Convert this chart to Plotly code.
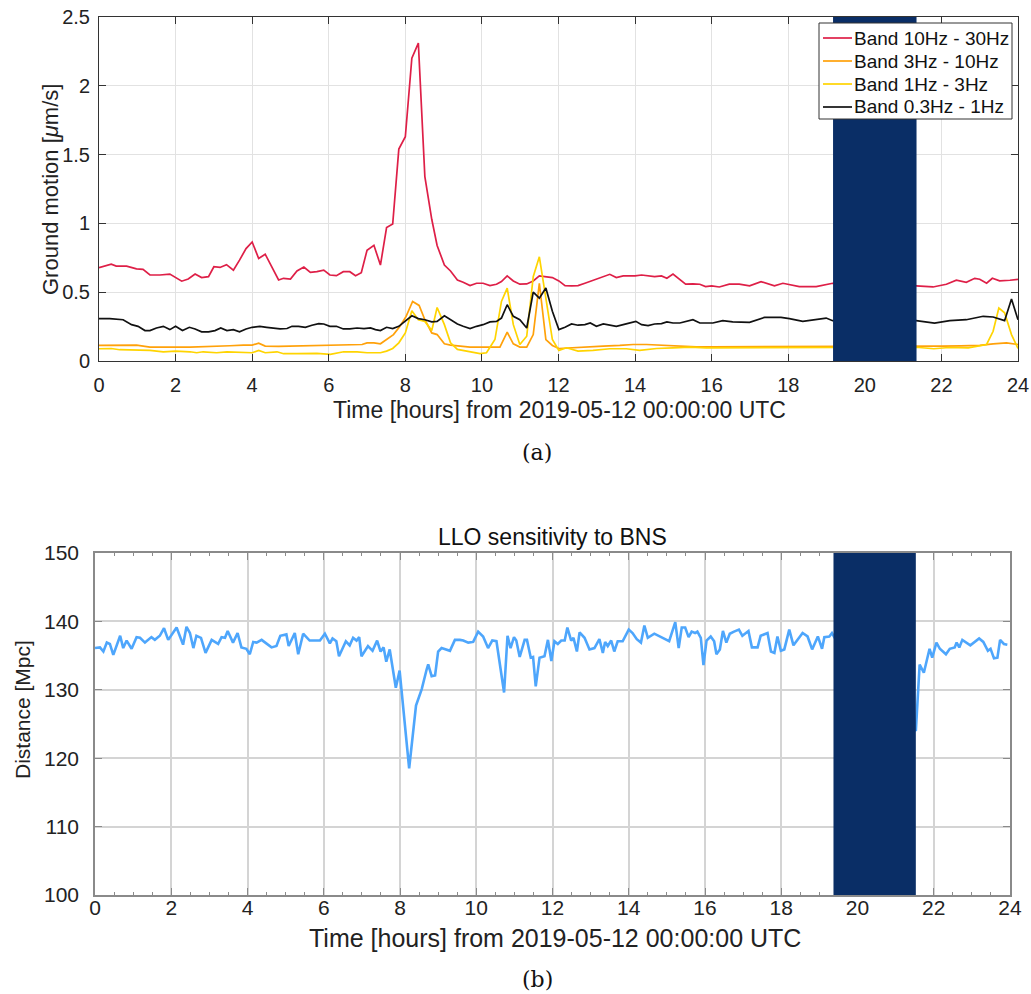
import plotly.graph_objects as go

# ---------------- DATA ----------------
# (a) Ground motion bands, hours since 2019-05-12 00:00 UTC, values in um/s
red_t = [0, 0.32, 0.45, 0.72, 0.98, 1.15, 1.33, 1.59, 1.85, 2.16, 2.33, 2.51, 2.68, 2.86, 3.0, 3.16, 3.33, 3.51,
         3.67, 3.84, 4.0, 4.17, 4.34, 4.52, 4.69, 4.82, 5.0, 5.17, 5.35, 5.52, 5.69, 5.87, 6.03, 6.2, 6.38, 6.55,
         6.7, 6.85, 7.0, 7.18, 7.35, 7.51, 7.67, 7.83, 8.0, 8.17, 8.34, 8.51, 8.69, 8.83, 9.02, 9.18, 9.36, 9.51,
         9.69, 9.86, 10.03, 10.21, 10.38, 10.51, 10.66, 10.82, 10.99, 11.17, 11.34, 11.5, 11.67, 11.84, 12.01,
         12.17, 12.34, 12.51, 12.69, 12.86, 13.03, 13.18, 13.34, 13.51, 13.69, 13.86, 14.0, 14.17, 14.34, 14.51,
         14.69, 14.83, 14.99, 15.17, 15.32, 15.51, 15.69, 15.84, 16.0, 16.2, 16.46, 16.72, 16.99, 17.29, 17.64,
         17.86, 18.29, 18.73, 19.16, 21.34, 21.78, 22.13, 22.39, 22.65, 22.87, 23.0, 23.18, 23.33, 23.52, 23.79, 24.0]
red_v = [0.678, 0.704, 0.69, 0.69, 0.67, 0.666, 0.625, 0.625, 0.632, 0.58, 0.596, 0.632, 0.606, 0.613, 0.685, 0.68,
         0.70, 0.66, 0.733, 0.817, 0.865, 0.745, 0.776, 0.678, 0.589, 0.601, 0.596, 0.654, 0.683, 0.644, 0.649,
         0.661, 0.625, 0.62, 0.649, 0.649, 0.62, 0.642, 0.805, 0.841, 0.697, 0.97, 0.995, 1.54, 1.63, 2.2, 2.31,
         1.34, 1.03, 0.84, 0.697, 0.654, 0.589, 0.572, 0.548, 0.565, 0.565, 0.548, 0.558, 0.577, 0.618, 0.582,
         0.558, 0.56, 0.582, 0.618, 0.613, 0.606, 0.582, 0.548, 0.546, 0.548, 0.565, 0.582, 0.601, 0.618, 0.63,
         0.606, 0.618, 0.618, 0.618, 0.625, 0.618, 0.613, 0.618, 0.601, 0.632, 0.589, 0.558, 0.56, 0.558, 0.541,
         0.546, 0.538, 0.558, 0.558, 0.546, 0.577, 0.546, 0.565, 0.541, 0.541, 0.565, 0.546, 0.538, 0.558, 0.587,
         0.572, 0.601, 0.594, 0.565, 0.601, 0.582, 0.587, 0.594]

orange_t = [0, 0.28, 0.63, 0.98, 1.33, 1.68, 2.03, 2.38, 2.72, 3.07, 3.42, 3.77, 4.0, 4.17, 4.34, 4.69, 5.0, 5.35,
            5.69, 6.04, 6.39, 6.74, 6.87, 7.0, 7.18, 7.35, 7.51, 7.69, 7.86, 8.02, 8.19, 8.36, 8.51, 8.69, 8.83,
            9.02, 9.18, 9.43, 9.69, 9.95, 10.3, 10.47, 10.66, 10.82, 10.99, 11.17, 11.34, 11.5, 11.67, 11.84,
            12.01, 12.3, 12.73, 13.17, 13.6, 13.95, 14.3, 14.73, 15.17, 15.6, 16.03, 16.5, 17.0, 17.5, 18.0,
            18.5, 19.16, 21.34, 22.0, 22.5, 23.0, 23.35, 23.7, 24.0]
orange_v = [0.113, 0.115, 0.113, 0.115, 0.101, 0.103, 0.101, 0.101, 0.103, 0.108, 0.111, 0.115, 0.115, 0.13,
            0.108, 0.106, 0.108, 0.108, 0.111, 0.111, 0.115, 0.12, 0.12, 0.132, 0.132, 0.125, 0.156, 0.192, 0.252,
            0.324, 0.433, 0.404, 0.30, 0.204, 0.192, 0.125, 0.115, 0.108, 0.101, 0.101, 0.101, 0.101, 0.209, 0.125,
            0.101, 0.101, 0.192, 0.565, 0.156, 0.113, 0.091, 0.096, 0.103, 0.108, 0.113, 0.12, 0.12, 0.113, 0.108,
            0.103, 0.103, 0.103, 0.105, 0.103, 0.103, 0.105, 0.105, 0.108, 0.108, 0.11, 0.113, 0.125, 0.132, 0.12]

yellow_t = [0, 0.32, 0.54, 0.98, 1.33, 1.68, 2.0, 2.38, 2.55, 2.72, 3.07, 3.34, 3.6, 3.86, 4.0, 4.17, 4.34, 4.65,
            4.82, 5.17, 5.69, 6.04, 6.39, 6.74, 7.0, 7.35, 7.51, 7.67, 7.83, 8.0, 8.17, 8.34, 8.51, 8.69, 8.83,
            9.02, 9.18, 9.36, 9.6, 9.95, 10.12, 10.34, 10.51, 10.66, 10.82, 10.99, 11.17, 11.34, 11.5, 11.67,
            11.84, 12.01, 12.21, 12.51, 12.9, 13.34, 13.77, 14.12, 14.56, 14.99, 15.43, 15.86, 16.2, 16.7, 17.2,
            17.7, 18.2, 18.7, 19.16, 21.34, 21.8, 22.2, 22.7, 23.18, 23.35, 23.5, 23.65, 23.83, 24.0]
yellow_v = [0.089, 0.091, 0.082, 0.082, 0.077, 0.067, 0.072, 0.067, 0.06, 0.067, 0.06, 0.067, 0.065, 0.06, 0.06,
            0.077, 0.06, 0.067, 0.053, 0.053, 0.055, 0.048, 0.067, 0.067, 0.06, 0.06, 0.072, 0.091, 0.132, 0.204,
            0.365, 0.30, 0.288, 0.221, 0.389, 0.264, 0.132, 0.084, 0.072, 0.053, 0.06, 0.156, 0.433, 0.529, 0.264,
            0.12, 0.18, 0.613, 0.757, 0.457, 0.156, 0.077, 0.096, 0.072, 0.077, 0.089, 0.089, 0.077, 0.091, 0.096,
            0.101, 0.096, 0.096, 0.098, 0.096, 0.098, 0.096, 0.098, 0.098, 0.10, 0.089, 0.098, 0.096, 0.12, 0.216,
            0.385, 0.35, 0.192, 0.091]

black_t = [0, 0.28, 0.63, 0.85, 1.02, 1.2, 1.33, 1.5, 1.68, 1.85, 2.0, 2.18, 2.36, 2.51, 2.68, 2.86, 3.03, 3.18,
           3.34, 3.51, 3.67, 3.84, 4.0, 4.2, 4.38, 4.56, 4.73, 4.91, 5.04, 5.21, 5.39, 5.56, 5.74, 5.87, 6.03, 6.2,
           6.38, 6.55, 6.74, 6.92, 7.09, 7.22, 7.35, 7.51, 7.67, 7.83, 8.0, 8.17, 8.34, 8.51, 8.69, 8.83, 9.02,
           9.18, 9.36, 9.51, 9.69, 9.86, 10.03, 10.21, 10.38, 10.51, 10.66, 10.82, 10.99, 11.17, 11.34, 11.5,
           11.67, 11.84, 12.01, 12.17, 12.34, 12.51, 12.69, 12.83, 12.99, 13.17, 13.34, 13.51, 13.69, 13.86,
           14.02, 14.17, 14.34, 14.51, 14.69, 14.83, 14.99, 15.17, 15.32, 15.51, 15.69, 15.86, 16.03, 16.29,
           16.55, 16.99, 17.38, 17.81, 18.03, 18.38, 18.73, 18.99, 19.16, 21.34, 21.82, 22.22, 22.65, 23.09,
           23.35, 23.65, 23.83, 24.0]
black_v = [0.308, 0.308, 0.30, 0.264, 0.252, 0.221, 0.221, 0.24, 0.252, 0.228, 0.252, 0.221, 0.245, 0.233, 0.212,
           0.212, 0.221, 0.24, 0.221, 0.228, 0.212, 0.233, 0.245, 0.252, 0.245, 0.236, 0.233, 0.236, 0.252, 0.252,
           0.245, 0.26, 0.272, 0.269, 0.252, 0.252, 0.233, 0.233, 0.24, 0.236, 0.24, 0.228, 0.221, 0.245, 0.236,
           0.252, 0.288, 0.329, 0.308, 0.30, 0.284, 0.288, 0.329, 0.30, 0.269, 0.252, 0.236, 0.252, 0.264, 0.284,
           0.288, 0.312, 0.409, 0.325, 0.30, 0.24, 0.50, 0.457, 0.53, 0.361, 0.228, 0.245, 0.269, 0.26, 0.264,
           0.276, 0.252, 0.269, 0.26, 0.252, 0.264, 0.276, 0.288, 0.264, 0.257, 0.269, 0.272, 0.284, 0.276, 0.276,
           0.288, 0.30, 0.276, 0.276, 0.276, 0.293, 0.284, 0.281, 0.317, 0.317, 0.308, 0.288, 0.30, 0.312, 0.293,
           0.293, 0.276, 0.293, 0.30, 0.325, 0.32, 0.293, 0.45, 0.30]

# (b) LLO BNS range [Mpc]
blue_t = [0, 0.13, 0.22, 0.31, 0.39, 0.48, 0.66, 0.74, 0.83, 0.96, 1.09, 1.18, 1.31, 1.48, 1.57, 1.7, 1.81, 1.92,
          2.14, 2.31, 2.4, 2.49, 2.58, 2.66, 2.78, 2.9, 3.06, 3.23, 3.32, 3.41, 3.48, 3.62, 3.74, 3.84, 3.97, 4.06,
          4.15, 4.24, 4.37, 4.63, 4.76, 4.86, 5.02, 5.08, 5.24, 5.33, 5.46, 5.63, 5.9, 6.03, 6.16, 6.23, 6.33,
          6.4, 6.58, 6.68, 6.77, 6.86, 6.93, 6.99, 7.16, 7.28, 7.4, 7.49, 7.57, 7.64, 7.73, 7.89, 7.99, 8.24,
          8.42, 8.57, 8.7, 8.74, 8.83, 8.92, 9.0, 9.09, 9.31, 9.44, 9.57, 9.66, 9.79, 9.92, 10.05, 10.18, 10.31,
          10.42, 10.53, 10.73, 10.82, 10.9, 10.99, 11.05, 11.14, 11.27, 11.33, 11.43, 11.49, 11.56, 11.66, 11.79,
          11.88, 11.97, 12.05, 12.14, 12.23, 12.32, 12.39, 12.49, 12.55, 12.64, 12.71, 12.84, 12.97, 13.1, 13.23,
          13.32, 13.38, 13.45, 13.54, 13.62, 13.71, 13.84, 14.0, 14.1, 14.21, 14.32, 14.41, 14.5, 14.67, 14.8,
          14.93, 15.06, 15.22, 15.31, 15.39, 15.48, 15.57, 15.65, 15.74, 15.8, 15.89, 15.96, 16.04, 16.15, 16.24,
          16.3, 16.39, 16.47, 16.56, 16.65, 16.76, 16.89, 16.98, 17.14, 17.23, 17.38, 17.46, 17.64, 17.73, 17.82,
          17.9, 17.99, 18.08, 18.21, 18.32, 18.56, 18.69, 18.81, 18.96, 19.07, 19.13, 19.26, 19.33, 19.4, 21.53,
          21.63, 21.74, 21.89, 21.96, 22.07, 22.16, 22.32, 22.42, 22.55, 22.6, 22.67, 22.75, 22.86, 22.96, 23.19,
          23.3, 23.42, 23.49, 23.58, 23.67, 23.74, 23.84, 23.93]
blue_v = [136.1, 136.2, 135.6, 136.9, 136.7, 135.1, 137.9, 136.1, 137.2, 136.0, 137.7, 137.6, 136.9, 137.7, 137.3,
          137.9, 139.0, 137.3, 139.1, 136.6, 139.2, 138.3, 136.1, 137.9, 137.6, 135.4, 137.3, 136.7, 137.7, 137.6,
          138.6, 136.9, 138.3, 136.2, 136.0, 135.2, 137.0, 136.9, 137.3, 136.2, 136.4, 137.9, 138.1, 136.4, 138.3,
          135.2, 138.2, 137.2, 137.2, 138.2, 136.8, 137.5, 137.1, 134.9, 137.1, 136.5, 137.6, 137.2, 137.7, 134.9,
          136.4, 135.7, 137.2, 135.6, 136.2, 134.1, 135.9, 130.3, 132.8, 118.5, 127.7, 130.1, 133.0, 133.7, 132.0,
          132.1, 135.6, 136.1, 135.7, 137.3, 137.3, 137.2, 136.9, 137.0, 138.5, 137.8, 136.1, 137.2, 137.1, 129.6,
          137.9, 136.1, 137.7, 137.2, 134.8, 137.3, 137.3, 134.7, 134.8, 130.5, 134.7, 134.9, 137.3, 134.2, 137.1,
          136.7, 137.2, 137.2, 139.1, 137.2, 137.6, 135.6, 138.4, 137.6, 135.9, 136.1, 137.4, 135.4, 137.0, 136.4,
          137.2, 135.6, 137.1, 137.1, 138.8, 138.3, 137.4, 136.9, 139.4, 137.6, 138.2, 137.8, 137.5, 137.1, 139.9,
          136.1, 139.1, 139.1, 137.7, 138.5, 138.3, 138.5, 137.6, 133.6, 137.2, 137.8, 137.1, 135.2, 135.9, 138.6,
          136.9, 138.2, 138.5, 138.8, 137.9, 138.6, 136.2, 136.2, 137.9, 138.3, 135.6, 135.4, 137.8, 135.7, 135.9,
          138.8, 136.5, 138.3, 137.8, 135.9, 137.8, 136.0, 137.7, 137.8, 138.3, 137.6, 124.0, 133.7, 132.5, 136.0,
          134.7, 136.9, 136.0, 135.2, 136.0, 136.2, 136.9, 136.2, 137.3, 136.9, 136.5, 137.5, 137.0, 135.7, 136.0,
          134.6, 134.7, 137.3, 136.7, 136.6]

# data-outage windows (hours)
gap_a = [19.17, 21.35]
gap_b = [19.37, 21.53]

series_a = [
    ("Band 10Hz - 30Hz", red_t, red_v, "#de1f47"),
    ("Band 3Hz - 10Hz", orange_t, orange_v, "#ffa10a"),
    ("Band 1Hz - 3Hz", yellow_t, yellow_v, "#ffd400"),
    ("Band 0.3Hz - 1Hz", black_t, black_v, "#111111"),
]
x_ticks = list(range(0, 25, 2))

# ---------------- FIGURE ----------------
W, H = 1031, 994
fig = go.Figure()

for name, t, v, c in series_a:
    fig.add_trace(go.Scatter(x=t, y=v, mode="lines", name=name, showlegend=False,
                             line=dict(color=c, width=1.7), xaxis="x", yaxis="y"))

fig.add_trace(go.Scatter(x=blue_t, y=blue_v, mode="lines", showlegend=False, name="LLO BNS range",
                         line=dict(color="#4ea6fc", width=2.6), xaxis="x2", yaxis="y2"))

band_col = "#0a2e66"
fig.add_shape(type="rect", xref="x", yref="y", x0=gap_a[0], x1=gap_a[1], y0=0, y1=2.5,
              fillcolor=band_col, line=dict(width=0), layer="above")
fig.add_shape(type="rect", xref="x2", yref="y2", x0=gap_b[0], x1=gap_b[1], y0=100, y1=150.5,
              fillcolor=band_col, line=dict(width=0), layer="above")

def px(x):
    return x / W

def py(y):
    return 1 - y / H

font_main = "Liberation Sans, Arial, Helvetica, sans-serif"

# legend box (panel a), drawn on top of the outage band
leg_left, leg_right, leg_top, leg_bottom = 819, 1012, 23, 119
row_h = 23
fig.add_shape(type="rect", xref="paper", yref="paper",
              x0=px(leg_left), x1=px(leg_right), y0=py(leg_bottom), y1=py(leg_top),
              fillcolor="white", line=dict(color="#333333", width=1), layer="above")
for i, (name, t, v, c) in enumerate(series_a):
    yy = leg_top + 15 + i * row_h
    fig.add_shape(type="line", xref="paper", yref="paper",
                  x0=px(leg_left + 4), x1=px(leg_left + 33), y0=py(yy), y1=py(yy),
                  line=dict(color=c, width=1.7), layer="above")
    fig.add_annotation(text=name, xref="paper", yref="paper", x=px(leg_left + 33), y=py(yy),
                       xanchor="left", yanchor="middle", showarrow=False,
                       font=dict(size=19, family=font_main, color="#111111"))

fig.update_layout(
    template="none",
    width=W, height=H,
    margin=dict(l=0, r=0, t=0, b=0, autoexpand=False),
    paper_bgcolor="white", plot_bgcolor="white",
    font=dict(family=font_main, color="#222222"),
    hovermode=False,
    showlegend=False,
    xaxis=dict(domain=[px(99), px(1018)], range=[0, 24], tickvals=x_ticks, automargin=False,
               ticks="inside", ticklen=7, tickcolor="#333333", mirror="ticks",
               showline=True, linecolor="#333333", linewidth=1,
               showgrid=True, gridcolor="#e2e2e2", gridwidth=1, zeroline=False,
               tickfont=dict(size=20, color="#222222"), ticklabelstandoff=6,
               anchor="y"),
    yaxis=dict(domain=[py(361), py(17)], range=[0, 2.5], tickvals=[0, 0.5, 1, 1.5, 2, 2.5],
               ticktext=["0", "0.5", "1", "1.5", "2", "2.5"], automargin=False,
               ticks="inside", ticklen=7, tickcolor="#333333", mirror="ticks",
               showline=True, linecolor="#333333", linewidth=1,
               showgrid=True, gridcolor="#e2e2e2", gridwidth=1, zeroline=False,
               tickfont=dict(size=20, color="#222222"), ticklabelstandoff=4,
               anchor="x"),
    xaxis2=dict(domain=[px(95), px(1010)], range=[0, 24], tickvals=x_ticks, automargin=False,
                ticks="inside", ticklen=7, tickcolor="#8a8a8a", mirror="ticks",
                showline=True, linecolor="#8a8a8a", linewidth=1.5,
                showgrid=True, gridcolor="#d4d4d4", gridwidth=1.5, zeroline=False,
                minor=dict(dtick=0.5, ticks="inside", ticklen=3, tickcolor="#8a8a8a", showgrid=False),
                tickfont=dict(size=21, color="#222222"), ticklabelstandoff=-7,
                anchor="y2"),
    yaxis2=dict(domain=[py(895), py(553)], range=[100, 150], tickvals=[100, 110, 120, 130, 140, 150],
                automargin=False,
                ticks="inside", ticklen=7, tickcolor="#8a8a8a", mirror="ticks",
                showline=True, linecolor="#8a8a8a", linewidth=1.5,
                showgrid=True, gridcolor="#d4d4d4", gridwidth=1.5, zeroline=False,
                tickfont=dict(size=21, color="#222222"), ticklabelstandoff=10,
                anchor="x2"),
)

def note(text, x, y, size, angle=0, family=font_main, color="#222222"):
    fig.add_annotation(text=text, xref="paper", yref="paper", x=px(x), y=py(y),
                       xanchor="center", yanchor="middle", showarrow=False, textangle=angle,
                       font=dict(size=size, family=family, color=color))

xtitle = "Time [hours] from 2019-05-12 00:00:00 UTC"
note(xtitle, 559, 410, 23)
note("Ground motion [<i>μ</i>m/s]", 50, 190, 22, angle=-90)
note("(a)", 537, 453, 22, family="DejaVu Serif, Liberation Serif, serif", color="#111111")
note("LLO sensitivity to BNS", 552, 537, 23, color="#111111")
note(xtitle, 555, 938, 25)
note("Distance [Mpc]", 22, 710, 21, angle=-90)
note("(b)", 537, 979, 22, family="DejaVu Serif, Liberation Serif, serif", color="#111111")

fig.write_html("out.html", config={"displayModeBar": False},
               post_script="document.body.style.margin='0px';document.body.style.padding='0px';"
                           "document.body.style.overflow='hidden';")
